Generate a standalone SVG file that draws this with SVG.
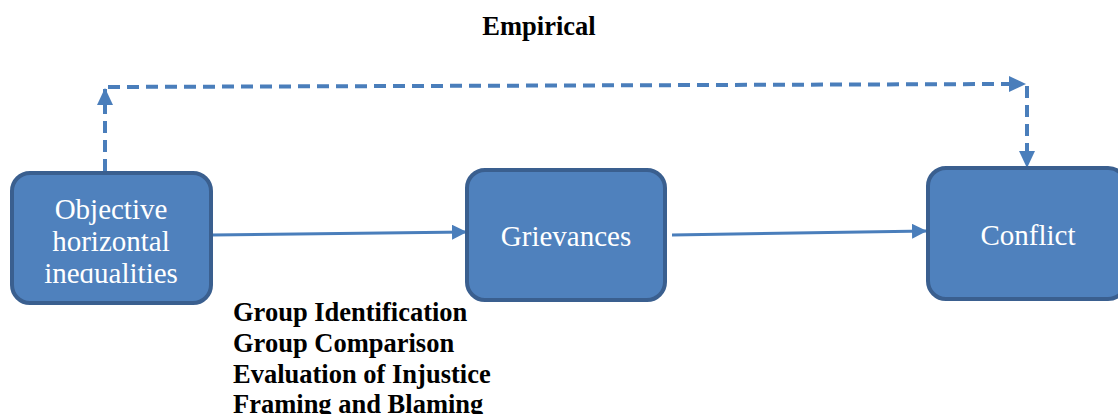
<svg xmlns="http://www.w3.org/2000/svg" width="1118" height="414" viewBox="0 0 1118 414">
  <style>
    .box { fill: #4f81bd; stroke: #3a5f8f; stroke-width: 4; }
    .node-label { font-family: "Liberation Serif", "Times New Roman", serif; font-size: 29px; fill: #ffffff; text-anchor: middle; }
    .bold { font-family: "Liberation Serif", "Times New Roman", serif; font-weight: bold; font-size: 26.5px; fill: #000000; }
    .solid { stroke: #4a7ebb; stroke-width: 3; fill: none; }
    .dashed { stroke: #4a7ebb; stroke-width: 4; fill: none; stroke-dasharray: 12 7; }
  </style>
  <defs>
    <marker id="head" viewBox="0 0 10 10" refX="10" refY="5" markerWidth="5" markerHeight="5" markerUnits="strokeWidth" orient="auto">
      <path d="M0,0 L10,5 L0,10 Z" fill="#4a7ebb"/>
    </marker>
    <clipPath id="clipObjective">
      <rect x="16" y="177" width="191" height="106"/>
    </clipPath>
  </defs>

  <text class="bold" x="539" y="35" text-anchor="middle">Empirical</text>

  <g id="connectors">
    <line class="solid" x1="212" y1="235" x2="467" y2="232" marker-end="url(#head)"/>
    <line class="solid" x1="672" y1="235" x2="927" y2="231" marker-end="url(#head)"/>
    <polyline class="dashed" points="105,171 105,89"/>
    <path d="M97,105 L105,88 L113,105 Z" fill="#4a7ebb"/>
    <polyline class="dashed" points="108,87 1010,84"/>
    <path d="M1009,76 L1026,84 L1009,92 Z" fill="#4a7ebb"/>
    <polyline class="dashed" points="1027,86 1027,152"/>
    <path d="M1019,151 L1027,168 L1035,151 Z" fill="#4a7ebb"/>
  </g>

  <g id="node-objective">
    <rect class="box" x="12" y="173" width="199" height="130" rx="18"/>
    <g clip-path="url(#clipObjective)">
      <text class="node-label" x="111" y="219">Objective</text>
      <text class="node-label" x="111" y="251">horizontal</text>
      <text class="node-label" x="111" y="283">inequalities</text>
    </g>
  </g>

  <g id="node-grievances">
    <rect class="box" x="467" y="170" width="198" height="130" rx="18"/>
    <text class="node-label" x="566" y="246">Grievances</text>
  </g>

  <g id="node-conflict">
    <rect class="box" x="928" y="168" width="198" height="131" rx="18"/>
    <text class="node-label" x="1028" y="245">Conflict</text>
  </g>

  <g id="mechanisms">
    <text class="bold" x="233" y="321">Group Identification</text>
    <text class="bold" x="233" y="352">Group Comparison</text>
    <text class="bold" x="233" y="383">Evaluation of Injustice</text>
    <text class="bold" x="233" y="413">Framing and Blaming</text>
  </g>
</svg>
